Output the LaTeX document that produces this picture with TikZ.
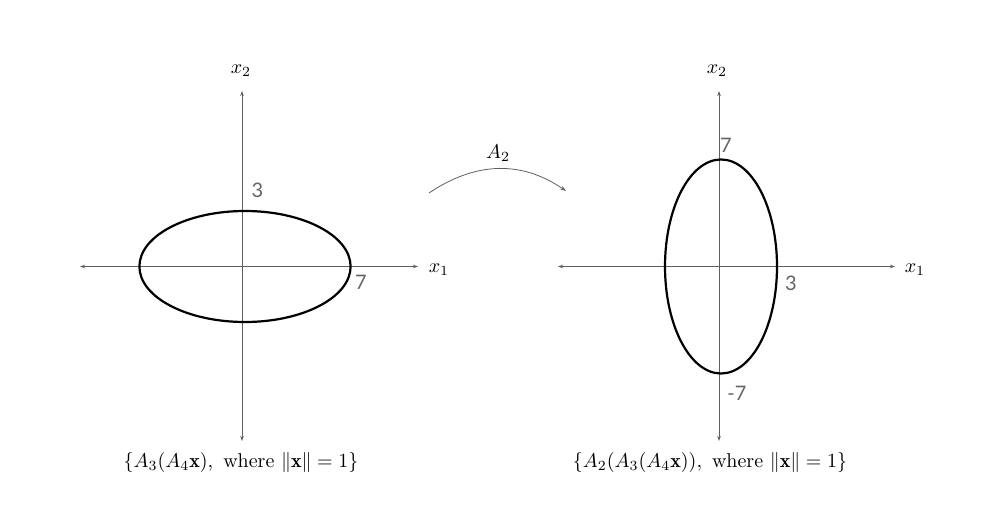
\documentclass[tikz,border=0pt]{standalone}
\usepackage{amsmath}
\usepackage{graphicx}
\usepackage{fontspec}
\newfontfamily\numfont{Lato}
\usetikzlibrary{arrows.meta}
\definecolor{axisgray}{RGB}{95,95,95}
\definecolor{numgray}{RGB}{100,100,100}
\newcommand{\lbl}[1]{\scalebox{2.0}{$#1$}}
\newcommand{\capt}[1]{\scalebox{2.0}{$#1$}}
\tikzset{
  axisline/.style={draw=axisgray, line width=0.9pt, {Stealth[length=5pt,width=3.5pt]}-{Stealth[length=5pt,width=3.5pt]}},
  curveline/.style={draw=black, line width=2.2pt},
  maplink/.style={draw=axisgray, line width=0.8pt, -{Stealth[length=6pt,width=4pt]}},
  numlabel/.style={font=\fontsize{20}{24}\selectfont\numfont, text=numgray, inner sep=0pt},
  mathlabel/.style={inner sep=0pt},
}
\begin{document}
\begin{tikzpicture}[x=1pt,y=-1pt]
\useasboundingbox (0,0) rectangle (984,526);
% left panel
\coordinate (LxW) at (80,266.5);
\coordinate (LxE) at (418,266.5);
\coordinate (LyN) at (242,91);
\coordinate (LyS) at (242,441);
\draw[axisline] (LxW) -- (LxE);
\draw[axisline] (LyS) -- (LyN);
\draw[curveline] (245,266.5) ellipse [x radius=105.6, y radius=55.5];
\node[mathlabel] (Lx2) at (241,71) {\lbl{x_2}};
\node[mathlabel] (Lx1) at (439,270) {\lbl{x_1}};
\node[numlabel] (L3) at (257.5,190) {3};
\node[numlabel] (L7) at (361,282) {7};
\node[mathlabel] (Lcap) at (241,462) {\capt{\{A_3(A_4\mathbf{x}),\ \text{where}\ \|\mathbf{x}\|=1\}}};
% right panel
\coordinate (RxW) at (558,266.5);
\coordinate (RxE) at (895,266.5);
\coordinate (RyN) at (719,91);
\coordinate (RyS) at (719,441);
\draw[axisline] (RxW) -- (RxE);
\draw[axisline] (RyS) -- (RyN);
\draw[curveline] (721,266.5) ellipse [x radius=56, y radius=107];
\node[mathlabel] (Rx2) at (717,71) {\lbl{x_2}};
\node[mathlabel] (Rx1) at (915,270) {\lbl{x_1}};
\node[numlabel] (R7) at (726,145) {7};
\node[numlabel] (R3) at (791,283) {3};
\node[numlabel] (Rm7) at (737,393) {-7};
\node[mathlabel] (Rcap) at (710,462) {\capt{\{A_2(A_3(A_4\mathbf{x})),\ \text{where}\ \|\mathbf{x}\|=1\}}};
% map arrow
\coordinate (arcS) at (429,193);
\coordinate (arcE) at (566,191);
\draw[maplink] (arcS) .. controls (475,162) and (521,160) .. (arcE);
\node[mathlabel] (A2) at (498,153) {\lbl{A_2}};
\end{tikzpicture}
\end{document}
